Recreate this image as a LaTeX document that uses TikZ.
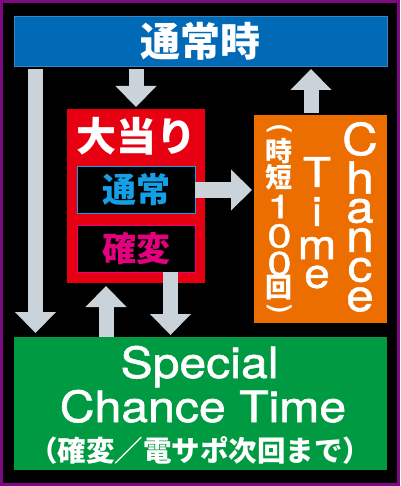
\documentclass[tikz,border=0pt]{standalone}
\usepackage{fontspec}
\setmainfont{TeX Gyre Heros}
\newfontfamily\latm{TeX Gyre Heros}[FakeBold=1.2]
\newfontfamily\jp{Noto Sans CJK JP}
\usetikzlibrary{arrows.meta,calc}
\definecolor{bgpurple}{RGB}{125,10,130}
\definecolor{boxblue}{RGB}{0,106,182}
\definecolor{boxred}{RGB}{230,0,18}
\definecolor{boxgreen}{RGB}{0,154,66}
\definecolor{boxorange}{RGB}{236,110,0}
\definecolor{arrowgray}{RGB}{202,211,217}
\definecolor{txtcyan}{RGB}{20,160,230}
\definecolor{txtmag}{RGB}{228,0,127}
\begin{document}
\begin{tikzpicture}[x=1pt,y=-1pt,
  panel/.style={rectangle, inner sep=0pt, outer sep=0pt},
  jpt/.style={font=\jp\bfseries\fontsize{#1}{#1}\selectfont, text=white, inner sep=0pt},
  lat/.style={font=\latm\fontsize{#1}{#1}\selectfont, text=white, inner sep=0pt, xscale=1.12},
  dig/.style={font=\latm\fontsize{#1}{#1}\selectfont, text=white, inner sep=0pt, xscale=1.3},
  par/.style={font=\bfseries\fontsize{#1}{#1}\selectfont, text=white, inner sep=0pt, rotate=-90},
  barrow/.style={draw=arrowgray, line width=15pt,
    -{Triangle[width=41pt,length=21pt,line width=0pt]}}
]
\useasboundingbox (0,0) rectangle (400,486);
\fill[black] (0,0) rectangle (400,486);
\draw[bgpurple, line width=3pt] (1.5,1.5) rectangle (398.5,484.5);

% boxes
\node[panel, fill=boxblue, draw=boxblue!80!white, line width=0.8pt,
  minimum width=373pt, minimum height=50pt, jpt=40] (top) at (200.5,41) {通常時};
\node[panel, fill=boxred, minimum width=138pt, minimum height=174pt] (big) at (136,196) {};
\node[jpt=40] (bigtxt) at (136.5,136.5) {大当り};
\node[panel, fill=black, draw=txtcyan, line width=1pt,
  minimum width=118pt, minimum height=47pt, jpt=34, text=txtcyan] (tsujo) at (136,190) {通常};
\node[panel, fill=black, draw=txtmag, line width=1pt,
  minimum width=118pt, minimum height=47pt, jpt=34, text=txtmag] (kakuhen) at (136,248.5) {確変};
\node[panel, fill=boxorange, minimum width=133pt, minimum height=208pt] (ct) at (320.5,219) {};
\node[panel, fill=boxgreen, minimum width=373pt, minimum height=133pt] (sct) at (200.5,403.5) {};

% Chance Time column
\node[lat=44] (c1) at (360,139) {C};
\node[lat=44] (c2) at (360,177.5) {h};
\node[lat=44] (c3) at (360,211) {a};
\node[lat=44] (c4) at (360,240) {n};
\node[lat=44] (c5) at (360,270) {c};
\node[lat=44] (c6) at (360,299.5) {e};
\node[lat=41] (t1) at (317,172) {T};
\node[lat=41] (t2) at (317,211.5) {i};
\node[lat=41] (t3) at (317,248) {m};
\node[lat=41] (t4) at (317,277) {e};
\node[par=27] (p1) at (279.5,128.5) {(};
\node[jpt=27] (p2) at (279,151) {時};
\node[jpt=27] (p3) at (279,177) {短};
\node[dig=33] (p4) at (279.5,206.5) {1};
\node[dig=33] (p5) at (279.5,236) {0};
\node[dig=33] (p6) at (279.5,263.5) {0};
\node[jpt=27] (p7) at (279,288) {回};
\node[par=27] (p8) at (279.5,309) {)};

% Special Chance Time text
\node[lat=43, anchor=base] (sp) at (199.5,378) {Special};
\node[lat=43, anchor=base] (cht) at (203,422) {Chance Time};
\node[jpt=28.5] (sub) at (200,450) {（確変／電サポ次回まで）};

% arrows
\coordinate (xL) at (35.5,0);
\coordinate (xA) at (136,0);
\coordinate (xB) at (311,0);
\coordinate (xC) at (106,0);
\coordinate (xD) at (170.5,0);
\draw[barrow] ($(top.south -| xL)+(0,3)$) -- ($(sct.north -| xL)+(0,-4)$);
\draw[barrow] ($(top.south -| xA)+(0,3)$) -- ($(big.north -| xA)+(0,-2)$);
\draw[barrow] ($(ct.north -| xB)+(0,-2)$) -- ($(top.south -| xB)+(0,3)$);
\draw[barrow] (tsujo.east) -- ($(ct.west |- tsujo.east)+(-2,0)$);
\draw[barrow] (sct.north -| xC) -- ($(big.south -| xC)+(0,3)$);
\draw[barrow] (kakuhen.south -| xD) -- ($(sct.north -| xD)+(0,-2)$);
\end{tikzpicture}
\end{document}
